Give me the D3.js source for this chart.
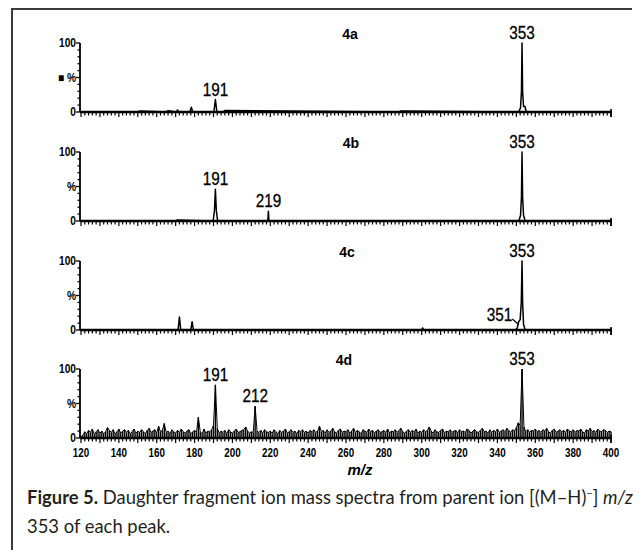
<!DOCTYPE html>
<meta charset="utf-8">
<script src="https://d3js.org/d3.v7.min.js"></script>
<style>
  body { margin: 0; background: #fff; }
</style>
<div id="my_dataviz"></div>
<script>

  // panel names and axis ticks
  var panels = ["4a", "4b", "4c", "4d"];
  var xTicks = [120, 140, 160, 180, 200, 220, 240, 260, 280, 300, 320, 340, 360, 380, 400];

  // profile spectra for 4a-4c (m/z, relative intensity %)
  var mzA  = [120, 150, 151, 165, 166, 170.5, 171, 171.5, 177.5, 178.3, 179, 190.2, 191, 191.8, 195, 196, 288, 289, 351.2, 352.2, 352.7, 353, 353.3, 353.8, 354.6, 355.2, 400];
  var intA = [0,   0,   1.5, 0,   2,   0,     3,   0,     0,     7,     0,   0,     18,  0,     0,   2,   0,   1.5, 0,     6,     30,    100, 30,    8,     8,     0,     0];

  var mzB  = [120, 170, 171, 189.8, 190.5, 191, 191.5, 192.2, 218.7, 219, 219.3, 351.3, 352.2, 352.7, 353, 353.3, 353.8, 354.7, 400];
  var intB = [0,   0,   1.5, 0,     15,    46,  15,    0,     0,     14,  0,     0,     8,     35,    100, 35,    8,     0,     0];

  var mzC  = [120, 171.3, 172, 172.7, 178, 178.7, 179.4, 300, 300.5, 301, 349.5, 350.5, 351.2, 352, 352.6, 353, 353.3, 353.8, 354.7, 400];
  var intC = [0,   0,     19,  0,     0,   12,    0,     0,   3,     0,   0,     3,     12,    15,  40,    100, 40,    8,     0,     0];

  // 4d: one reading per m/z unit from 120 to 400
  var mzD = d3.range(120, 401);
  var intD = [
    2, 4, 9, 6, 11, 8, 13, 5, 9, 12, 7, 10, 6, 9, 15, 11, 8, 12, 6, 9,
    13, 7, 10, 12, 8, 11, 6, 9, 13, 7, 10, 8, 12, 9, 6, 11, 14, 8, 10, 12,
    7, 17, 9, 11, 21, 8, 10, 6, 12, 9, 7, 11, 8, 13, 9, 7, 10, 12, 6, 9,
    11, 8, 30, 9, 6, 13, 7, 10, 9, 12, 18, 77, 14, 7, 10, 8, 11, 6, 12, 9,
    7, 10, 13, 8, 9, 11, 12, 16, 10, 7, 9, 8, 46, 10, 8, 11, 7, 12, 9, 8,
    10, 7, 12, 9, 6, 11, 8, 10, 13, 7, 9, 12, 8, 10, 6, 11, 9, 12, 8, 10,
    7, 11, 9, 12, 8, 10, 17, 9, 11, 7, 12, 8, 10, 14, 9, 7, 11, 13, 8, 10,
    9, 12, 7, 10, 14, 8, 11, 9, 6, 12, 10, 8, 13, 9, 11, 7, 10, 12, 8, 9,
    11, 8, 13, 7, 10, 9, 12, 8, 11, 14, 9, 7, 10, 12, 8, 11, 9, 13, 7, 10,
    8, 12, 9, 11, 16, 10, 7, 12, 9, 8, 11, 13, 7, 10, 9, 12, 8, 10, 11, 7,
    12, 9, 10, 8, 13, 11, 7, 10, 12, 9, 8, 11, 14, 9, 10, 7, 12, 8, 11, 9,
    13, 8, 10, 12, 9, 14, 11, 8, 12, 10, 15, 22, 18, 100, 16, 9, 12, 8, 11, 10,
    13, 9, 11, 8, 12, 10, 14, 9, 7, 11, 13, 8, 10, 12, 9, 11, 8, 13, 10, 9,
    12, 8, 11, 10, 13, 9, 7, 12, 10, 14, 9, 11, 8, 13, 10, 9, 12, 11, 8, 10,
    9
  ];

  // peak annotations per panel
  var labelsA = [{ mz: 191, h: 18, t: "191" }, { mz: 353, h: 100, t: "353" }];
  var labelsB = [{ mz: 191, h: 46, t: "191" }, { mz: 219, h: 14, t: "219" }, { mz: 353, h: 100, t: "353" }];
  var labelsC = [{ mz: 353, h: 100, t: "353" }];
  var labelsD = [{ mz: 191, h: 77, t: "191" }, { mz: 212, h: 46, t: "212" }, { mz: 353, h: 100, t: "353" }];

  var mzs = [mzA, mzB, mzC, mzD],
    ints = [intA, intB, intC, intD],
    labels = [labelsA, labelsB, labelsC, labelsD];

  var width = 641, height = 550;
  var baseY = [112, 221, 330, 438], panelH = 69;
  var tagX = [350, 351, 347, 344];

  var svg = d3.select("#my_dataviz")
    .append("svg")
    .attr("width", width)
    .attr("height", height)
    .style("font-family", "'Liberation Sans', Arial, sans-serif");

  // frame
  svg.append("path")
    .attr("d", "M12,550V9H632")
    .attr("fill", "none")
    .attr("stroke", "#3a3a3a")
    .attr("stroke-width", 2);

  var x = d3.scaleLinear().domain([120, 400]).range([81, 611]);

  // squeezed text, the scan uses a condensed face
  function narrow(sel, px, py, sx) {
    sel.attr("transform", function (d) {
      return "translate(" + px(d) + "," + py(d) + ") scale(" + sx + ",1)";
    });
  }

  panels.forEach(function (name, i) {
    var y = d3.scaleLinear().domain([0, 100]).range([baseY[i], baseY[i] - panelH]);
    var g = svg.append("g");

    var pts = mzs[i].map(function (m, k) { return [m, ints[i][k]]; });

    // 4d is noisy: draw every reading as a stick from the baseline
    if (i == 3) {
      g.selectAll("line.stick")
        .data(pts)
        .enter().append("line")
        .attr("class", "stick")
        .attr("x1", function (d) { return x(d[0]); })
        .attr("x2", function (d) { return x(d[0]); })
        .attr("y1", y(0))
        .attr("y2", function (d) { return y(d[1]); })
        .attr("stroke", "#000")
        .attr("stroke-width", 1.4);
    }

    // spectrum trace
    g.append("path")
      .datum(pts)
      .attr("d", d3.line().x(function (d) { return x(d[0]); }).y(function (d) { return y(d[1]); }))
      .attr("fill", i == 3 ? "none" : "#fff")
      .attr("stroke", "#000")
      .attr("stroke-width", i == 3 ? 1 : 1.5)
      .attr("stroke-linejoin", "round");

    // x axis: baseline with minor and major ticks
    var xAxis = g.append("g").attr("transform", "translate(0," + baseY[i] + ")");
    xAxis.append("line")
      .attr("x1", x(120) - 1).attr("x2", x(400) + 1)
      .attr("stroke", "#000").attr("stroke-width", 2.4);
    xAxis.selectAll("line.tk")
      .data(d3.range(120, 401, 2))
      .enter().append("line")
      .attr("class", "tk")
      .attr("x1", function (d) { return x(d); })
      .attr("x2", function (d) { return x(d); })
      .attr("y1", 0)
      .attr("y2", function (d) { return d % 10 == 0 ? 5 : 3.5; })
      .attr("stroke", "#000").attr("stroke-width", 1.2);
    xAxis.append("line")
      .attr("x1", x(400)).attr("x2", x(400)).attr("y1", -3).attr("y2", 5)
      .attr("stroke", "#000").attr("stroke-width", 1.6);

    // y axis
    var yAxis = g.append("g").attr("transform", "translate(" + (x(120) - 1) + ",0)");
    yAxis.append("line")
      .attr("y1", y(0)).attr("y2", y(100))
      .attr("stroke", "#000").attr("stroke-width", 1.8);
    yAxis.selectAll("line.tk")
      .data(d3.range(0, 101, 10))
      .enter().append("line")
      .attr("class", "tk")
      .attr("y1", function (d) { return y(d); })
      .attr("y2", function (d) { return y(d); })
      .attr("x1", function (d) { return d % 50 == 0 ? -4 : -2.5; })
      .attr("x2", 0)
      .attr("stroke", "#000").attr("stroke-width", 1.3);
    yAxis.selectAll("text")
      .data([[100, "100"], [50, i == 0 ? "\u25A0 %" : "%"], [0, "0"]])
      .enter().append("text")
      .attr("text-anchor", "end")
      .attr("font-size", 12)
      .attr("font-weight", "bold")
      .call(narrow, function () { return -4; }, function (d) { return y(d[0]) + 4; }, 0.85)
      .text(function (d) { return d[1]; });

    // panel tag
    g.append("text")
      .attr("x", tagX[i])
      .attr("y", y(100) - 4)
      .attr("text-anchor", "middle")
      .attr("font-size", 14)
      .attr("font-weight", "bold")
      .text(name);

    // peak labels
    g.selectAll("text.pk")
      .data(labels[i])
      .enter().append("text")
      .attr("class", "pk")
      .attr("text-anchor", "middle")
      .attr("font-size", 18)
      .attr("stroke", "#000")
      .attr("stroke-width", 0.3)
      .call(narrow, function (d) { return x(d.mz); }, function (d) { return y(d.h) - 4; }, 0.85)
      .text(function (d) { return d.t; });

    // 351 shoulder label in 4c
    if (i == 2) {
      g.append("text")
        .datum(351)
        .attr("text-anchor", "end")
        .attr("font-size", 18)
        .attr("stroke", "#000")
        .attr("stroke-width", 0.3)
        .call(narrow, function (d) { return x(d) - 6; }, function () { return y(15) + 1; }, 0.85)
        .text("351");
      g.append("line")
        .attr("x1", x(351) - 6).attr("y1", y(16))
        .attr("x2", x(351.2)).attr("y2", y(8))
        .attr("stroke", "#000").attr("stroke-width", 1.2);
    }

    // tick labels only under the last panel
    if (i == 3) {
      g.selectAll("text.xl")
        .data(xTicks)
        .enter().append("text")
        .attr("class", "xl")
        .attr("text-anchor", "middle")
        .attr("font-size", 12)
        .attr("font-weight", "bold")
        .call(narrow, function (d) { return x(d); }, function () { return baseY[i] + 19; }, 0.82)
        .text(function (d) { return d; });
      g.append("text")
        .attr("x", 360)
        .attr("y", baseY[i] + 37)
        .attr("text-anchor", "middle")
        .attr("font-size", 15)
        .attr("font-weight", "bold")
        .attr("font-style", "italic")
        .text("m/z");
    }
  });

  // caption
  var cap = svg.append("g")
    .style("font-family", "Lato, 'Open Sans', sans-serif")
    .attr("font-size", 18.4)
    .attr("fill", "#231f20");
  var line1 = cap.append("text").attr("x", 27).attr("y", 504);
  line1.append("tspan").attr("font-weight", "bold").text("Figure 5.");
  line1.append("tspan").text(" Daughter fragment ion mass spectra from parent ion [(M\u2013H)");
  line1.append("tspan").attr("font-size", 11).attr("dy", -7).text("\u2013");
  line1.append("tspan").attr("dy", 7).text("] ");
  line1.append("tspan").attr("font-style", "italic").text("m/z");
  cap.append("text").attr("x", 27).attr("y", 533).text("353 of each peak.");

</script>
